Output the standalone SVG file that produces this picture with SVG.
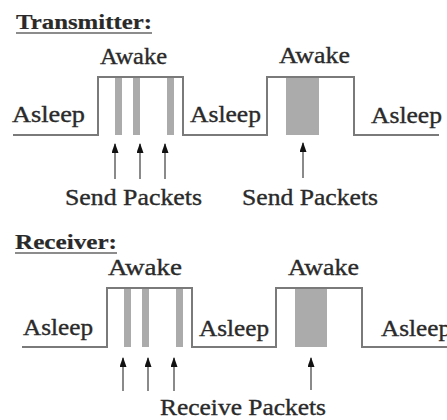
<svg xmlns="http://www.w3.org/2000/svg" width="447" height="420" viewBox="0 0 447 420">
<style>
  text { font-family: 'Liberation Serif', 'Times New Roman', serif; fill: #2a2a2a; stroke: #2a2a2a; stroke-width: 0.35; font-size: 23px; }
  .title { font-weight: bold; font-size: 22px; stroke-width: 0.2; }
  .ul { stroke: #666; stroke-width: 1.5; }
  .wave { fill: none; stroke: #7a7a7a; stroke-width: 2; }
  .bar { fill: #ababab; }
  .arr { stroke: #8a8a8a; stroke-width: 2; marker-end: url(#head); }
</style>
<defs>
  <marker id="head" markerUnits="userSpaceOnUse" markerWidth="10" markerHeight="7" refX="9" refY="3.5" orient="auto" viewBox="0 0 10 7">
    <path d="M0,0 L10,3.5 L0,7 z" fill="#111"/>
  </marker>
</defs>

<g id="transmitter">
  <g id="tx-title">
    <text class="title" x="16" y="29" textLength="136" lengthAdjust="spacingAndGlyphs">Transmitter:</text>
    <line class="ul" x1="16" y1="33" x2="152" y2="33"/>
  </g>
  <g id="tx-wave">
    <path class="wave" d="M13,135 H98 V77 H183 V135 H267 V77 H354 V135 H439"/>
  </g>
  <g id="tx-bars">
    <rect class="bar" x="115" y="78" width="7" height="57"/>
    <rect class="bar" x="133" y="78" width="7" height="57"/>
    <rect class="bar" x="167" y="78" width="7" height="57"/>
    <rect class="bar" x="286" y="78" width="33" height="57"/>
  </g>
  <g id="tx-labels">
    <text x="12" y="122" textLength="73" lengthAdjust="spacingAndGlyphs">Asleep</text>
    <text x="100" y="64" textLength="67" lengthAdjust="spacingAndGlyphs">Awake</text>
    <text x="190" y="122" textLength="71" lengthAdjust="spacingAndGlyphs">Asleep</text>
    <text x="279" y="63" textLength="71" lengthAdjust="spacingAndGlyphs">Awake</text>
    <text x="371" y="123" textLength="71" lengthAdjust="spacingAndGlyphs">Asleep</text>
    <text x="65" y="205" textLength="137" lengthAdjust="spacingAndGlyphs">Send Packets</text>
    <text x="242" y="205" textLength="136" lengthAdjust="spacingAndGlyphs">Send Packets</text>
  </g>
</g>

<g id="receiver">
  <g id="rx-title">
    <text class="title" x="15" y="249" textLength="102" lengthAdjust="spacingAndGlyphs">Receiver:</text>
    <line class="ul" x1="15" y1="253" x2="117" y2="253"/>
  </g>
  <g id="rx-wave">
    <path class="wave" d="M22,347 H107 V288 H192 V347 H276 V288 H362 V347 H447"/>
  </g>
  <g id="rx-bars">
    <rect class="bar" x="124" y="289" width="7" height="58"/>
    <rect class="bar" x="142" y="289" width="7" height="58"/>
    <rect class="bar" x="176" y="289" width="7" height="58"/>
    <rect class="bar" x="295" y="289" width="32" height="58"/>
  </g>
  <g id="rx-labels">
    <text x="23" y="335" textLength="70" lengthAdjust="spacingAndGlyphs">Asleep</text>
    <text x="108" y="275" textLength="74" lengthAdjust="spacingAndGlyphs">Awake</text>
    <text x="199" y="336" textLength="70" lengthAdjust="spacingAndGlyphs">Asleep</text>
    <text x="288" y="275" textLength="71" lengthAdjust="spacingAndGlyphs">Awake</text>
    <text x="381" y="336" textLength="70" lengthAdjust="spacingAndGlyphs">Asleep</text>
    <text x="160" y="415" textLength="166" lengthAdjust="spacingAndGlyphs">Receive Packets</text>
  </g>
</g>

<g id="connectors">
  <line class="arr" x1="115" y1="179" x2="115" y2="144"/>
  <line class="arr" x1="140" y1="179" x2="140" y2="144"/>
  <line class="arr" x1="165" y1="179" x2="165" y2="144"/>
  <line class="arr" x1="303" y1="178" x2="303" y2="143"/>
  <line class="arr" x1="123" y1="391" x2="123" y2="358"/>
  <line class="arr" x1="148" y1="391" x2="148" y2="358"/>
  <line class="arr" x1="174" y1="391" x2="174" y2="358"/>
  <line class="arr" x1="311" y1="390" x2="311" y2="358"/>
</g>
</svg>
